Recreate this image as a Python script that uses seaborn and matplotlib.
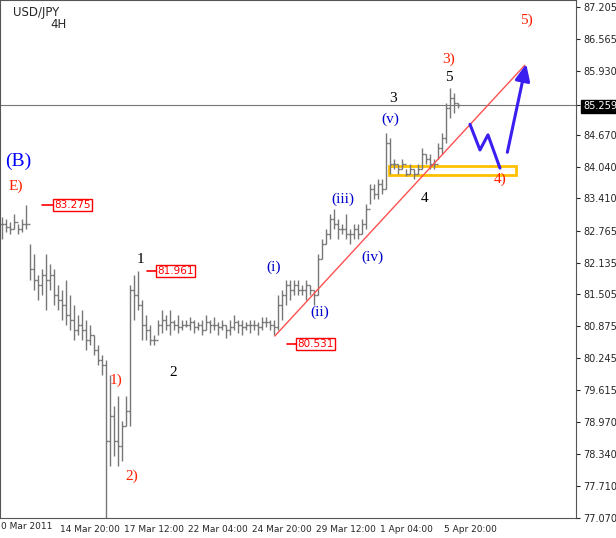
import numpy as np
import pandas as pd
import matplotlib.pyplot as plt
import seaborn as sns

# 4H bars, high / low / close (open = previous close)
highs = [83.05, 83.0, 82.95, 83.1, 82.9, 83.0, 83.275,
         82.5, 82.3, 81.9, 82.0, 82.3, 82.1,
         82.0, 81.7, 81.6, 81.8, 81.5, 81.3, 81.1, 81.2,
         81.0, 80.9, 80.7, 80.5, 80.3,
         80.2, 79.9, 79.3, 79.5, 79.0, 79.5, 81.7, 81.9, 81.961, 81.4, 81.1, 80.9, 80.7,
         81.0, 81.2, 81.1, 81.2, 81.0, 81.1, 81.0, 81.0, 81.05, 81.0, 80.95, 81.0,
         81.1, 81.0, 81.05, 80.95, 81.0, 80.9, 81.0, 81.1, 81.0, 81.0, 80.95, 81.0,
         81.0, 80.95, 81.05, 81.05, 81.0, 81.0,
         81.5, 81.6, 81.8, 81.8,
         81.8, 81.8, 81.7, 81.8, 81.7, 81.6, 82.3,
         82.6, 82.8, 83.1, 83.2, 83.0, 82.9, 83.1,
         82.8, 82.9, 82.9, 83.0, 83.3, 83.7,
         83.7, 83.8, 83.8, 84.7,
         84.6, 84.2, 84.1, 84.2, 84.0, 84.1, 84.0, 84.1,
         84.4, 84.3, 84.3, 84.2, 84.5, 84.7,
         85.3, 85.6, 85.5, 85.3]
lows = [82.6, 82.75, 82.7, 82.8, 82.7, 82.75, 82.8,
        81.8, 81.6, 81.4, 81.5, 81.2, 81.6,
        81.3, 81.2, 81.0, 80.9, 80.8, 80.6, 80.7, 80.6,
        80.4, 80.5, 80.3, 80.1, 79.9,
        77.07, 78.1, 78.3, 78.1, 78.2, 78.9, 78.9, 81.0, 81.2, 80.6, 80.6, 80.5, 80.5,
        80.7, 80.75, 80.8, 80.7, 80.8, 80.75, 80.8, 80.85, 80.8, 80.75, 80.8, 80.7,
        80.8, 80.75, 80.8, 80.7, 80.8, 80.65, 80.7, 80.8, 80.75, 80.7, 80.8, 80.75,
        80.8, 80.7, 80.8, 80.85, 80.8, 80.7,
        80.8, 81.0, 81.3, 81.4,
        81.5, 81.5, 81.5, 81.4, 81.5, 81.3, 81.5,
        82.2, 82.5, 82.6, 82.8, 82.6, 82.7, 82.6,
        82.5, 82.6, 82.6, 82.7, 82.8, 83.3,
        83.4, 83.4, 83.5, 83.6,
        83.9, 84.0, 83.9, 84.0, 83.85, 83.9, 83.8, 83.9,
        84.0, 84.1, 84.0, 84.0, 84.2, 84.3,
        84.5, 85.0, 85.1, 85.2]
closes = [82.9, 82.85, 82.8, 82.95, 82.8, 82.9, 82.9,
          82.0, 81.8, 81.7, 81.9, 81.8, 81.9,
          81.5, 81.4, 81.3, 81.1, 81.0, 80.8, 80.9, 80.8,
          80.6, 80.7, 80.4, 80.2, 80.1,
          78.6, 79.1, 78.6, 78.5, 78.9, 79.2, 81.6, 81.5, 81.3, 80.9, 80.8, 80.6, 80.6,
          80.9, 81.0, 80.9, 80.95, 80.9, 80.85, 80.9, 80.9, 80.95, 80.85, 80.9, 80.8,
          80.95, 80.9, 80.9, 80.85, 80.9, 80.8, 80.85, 80.95, 80.9, 80.85, 80.9, 80.9,
          80.9, 80.85, 80.95, 80.95, 80.9, 80.85,
          81.3, 81.5, 81.7, 81.6,
          81.7, 81.6, 81.6, 81.7, 81.6, 81.5, 82.2,
          82.5, 82.7, 83.0, 82.9, 82.8, 82.8, 82.7,
          82.7, 82.8, 82.7, 82.9, 83.2, 83.6,
          83.5, 83.7, 83.6, 84.5,
          84.1, 84.1, 84.0, 84.1, 83.9, 84.0, 83.9, 84.0,
          84.3, 84.2, 84.1, 84.1, 84.4, 84.6,
          85.2, 85.4, 85.3, 85.26]

tick_prices = [87.205, 86.565, 85.930, 85.259, 84.670, 84.040, 83.410, 82.765,
               82.135, 81.505, 80.875, 80.245, 79.615, 78.970, 78.340, 77.710, 77.070]
first_date = '0 Mar 2011'
date_ticks = [14.5, 30.5, 46.5, 62.5, 78.5, 94.5, 110.5]
date_labels = ['14 Mar 20:00', '17 Mar 12:00', '22 Mar 04:00',
               '24 Mar 20:00', '29 Mar 12:00', '1 Apr 04:00', '5 Apr 20:00']

sns.set_style("white")
plt.rcParams['font.family'] = ['DejaVu Sans']
serif = 'Liberation Serif'

df = pd.DataFrame({'high': highs, 'low': lows, 'close': closes})
df['open'] = df['close'].shift(1).fillna(df['close'])
df['i'] = np.arange(len(df))

fig = plt.figure(figsize=(6.16, 5.38), dpi=100)
ax = fig.add_axes([0.0, 0.037, 0.935, 0.963])
bar_c = '#777777'
ax.vlines(df['i'], df['low'], df['high'], color=bar_c, lw=1)
ax.hlines(df['open'], df['i'] - 0.45, df['i'], color=bar_c, lw=1)
ax.hlines(df['close'], df['i'], df['i'] + 0.45, color=bar_c, lw=1)

ax.set_xlim(-0.5, 143.5)
ax.set_ylim(77.07, 87.344)

# current price line
ax.axhline(85.259, color='#777777', lw=0.8)

# trend line
ax.plot([68.2, 130.7], [80.68, 86.05], color='#ff5050', lw=1)

# projected path
path = pd.DataFrame({'x': [117, 119.5, 121.5, 124.5], 'y': [84.88, 84.37, 84.67, 84.01]})
sns.lineplot(data=path, x='x', y='y', ax=ax, color='#3a1ff0', lw=2.2, sort=False)
ax.annotate('', xy=(131.2, 86.13), xytext=(126.2, 84.27),
            arrowprops=dict(arrowstyle='-|>,head_width=0.45,head_length=1.0',
                            color='#3a1ff0', lw=2.2))

# support box
ax.add_patch(plt.Rectangle((96.7, 83.87), 31.8, 0.18, fill=False,
                           edgecolor='#ffc000', lw=2))

def lbl(x, y, s, c, size=11):
    ax.text(x, y, s, color=c, fontsize=size, family=serif, ha='center', va='center')

lbl(4, 84.15, '(B)', '#0000ff', 14)
lbl(3.5, 83.65, 'E)', '#ff2000')
lbl(34.5, 82.2, '1', 'black')
lbl(42.8, 79.95, '2', 'black')
lbl(28.5, 79.8, '1)', '#ff2000')
lbl(32.5, 77.9, '2)', '#ff2000')
lbl(67.8, 82.05, '(i)', '#0000cc')
lbl(79.5, 81.15, '(ii)', '#0000cc')
lbl(85.2, 83.4, '(iii)', '#0000cc')
lbl(92.5, 82.25, '(iv)', '#0000cc')
lbl(97, 84.98, '(v)', '#0000cc')
lbl(97.7, 85.4, '3', 'black')
lbl(111.7, 85.8, '5', 'black')
lbl(105.7, 83.4, '4', 'black')
lbl(124.5, 83.78, '4)', '#ff2000')
lbl(111.7, 86.17, '3)', '#ff2000')
lbl(131.2, 86.95, '5)', '#ff2000')

def price_box(x0, x1, y, s):
    ax.plot([x0, x1], [y, y], color='red', lw=1.2)
    ax.text(x1, y, s, color='red', fontsize=7.5, ha='left', va='center',
            bbox=dict(boxstyle='square,pad=0.1', fc='white', ec='red', lw=1))

price_box(10, 13, 83.275, '83.275')
price_box(36.3, 38.8, 81.961, '81.961')
price_box(71.3, 73.8, 80.531, '80.531')

ax.text(8.5, 87.1, 'USD/JPY', fontsize=8.5, ha='center', va='center')
ax.text(14.2, 86.85, '4H', fontsize=8.5, ha='center', va='center')

ax.yaxis.tick_right()
ax.set_yticks(tick_prices)
ax.set_yticklabels([f'{p:.3f}' for p in tick_prices], fontsize=7)
for t in ax.get_yticklabels():
    if t.get_text() == '85.259':
        t.set_color('white')
        t.set_bbox(dict(boxstyle='square,pad=0.15', fc='black', ec='black'))
ax.set_xticks(date_ticks)
ax.set_xticklabels(date_labels, fontsize=6.5, ha='left')
ax.text(0.002, -0.008, first_date, transform=ax.transAxes, fontsize=6.5,
        ha='left', va='top')
ax.tick_params(length=3, pad=2)
ax.set_xlabel('')
ax.set_ylabel('')
for s in ax.spines.values():
    s.set_color('#555555')
    s.set_linewidth(0.8)

fig.savefig('out.png', dpi=100)
